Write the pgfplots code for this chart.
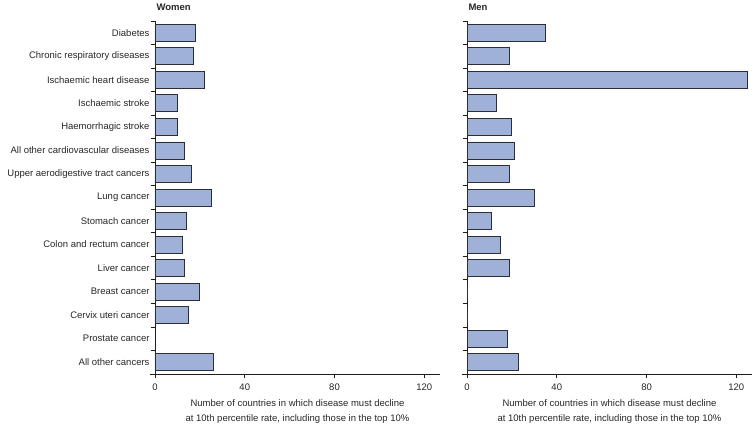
\documentclass[border=0pt]{standalone}
\usepackage{fontspec}
\setmainfont{Liberation Sans}
\usepackage{pgfplots}
\pgfplotsset{compat=1.18}
\definecolor{barfill}{RGB}{160,177,216}
\definecolor{baredge}{RGB}{45,45,55}
\definecolor{axiscol}{RGB}{30,30,30}
\pgfplotsset{
  panel/.style={
    scale only axis, width=285pt, height=353pt,
    xmin=0, xmax=127,
    ymin=-0.5, ymax=14.5, y dir=reverse,
    axis x line*=bottom, axis y line*=left,
    axis line style={axiscol, line width=0.8pt},
    xtick={0,40,80,120},
    ytick={-0.5,0.5,...,14.5},
    yticklabels={},
    tick align=outside,
    major tick length=4pt,
    tick style={axiscol, line width=0.8pt},
    extra y ticks={0,...,14},
    extra y tick style={major tick length=0pt, tick style={draw=none}},
    /pgf/number format/assume math mode=true,
    ticklabel style={font=\fontsize{9.5}{11}\selectfont, text=black!85},
    xticklabel style={yshift=-2pt},
    xlabel style={align=center, font=\fontsize{9.5}{15}\selectfont, text=black!85, yshift=-2pt},
    xlabel={Number of countries in which disease must decline\\at 10th percentile rate, including those in the top 10\%},
    clip=false,
  },
  mybar/.style={xbar, bar width=17pt, fill=barfill, draw=baredge, line width=0.8pt},
}
\begin{document}
\begin{tikzpicture}
\useasboundingbox (-155pt,-50pt) rectangle (599pt,374pt);
% Women
\begin{axis}[panel, at={(0pt,0pt)}, anchor=south west,
  extra y tick labels={Diabetes,Chronic respiratory diseases,Ischaemic heart disease,Ischaemic stroke,Haemorrhagic stroke,All other cardiovascular diseases,Upper aerodigestive tract cancers,Lung cancer,Stomach cancer,Colon and rectum cancer,Liver cancer,Breast cancer,Cervix uteri cancer,Prostate cancer,All other cancers},
  yticklabel style={xshift=-2pt}]
\addplot[mybar] coordinates {
 (18,0) (17,1) (22,2) (10,3) (10,4) (13,5) (16,6) (25,7)
 (14,8) (12,9) (13,10) (20,11) (15,12) (26,14)};
\draw[axiscol, line width=0.8pt] (axis cs:0,14.5) -- ([xshift=-5pt]axis cs:0,14.5);
\node[anchor=base west, font=\bfseries\fontsize{9.5}{11}\selectfont, text=black!85] at (axis cs:0,-0.5) [yshift=11pt, xshift=-2pt] {Women};
\end{axis}
% Men
\begin{axis}[panel, at={(312pt,0pt)}, anchor=south west,
  extra y tick labels={}]
\addplot[mybar] coordinates {
 (35,0) (19,1) (125,2) (13,3) (20,4) (21,5) (19,6) (30,7)
 (11,8) (15,9) (19,10) (0,11) (0,12) (18,13) (23,14)};
\draw[axiscol, line width=0.8pt] (axis cs:0,14.5) -- ([xshift=-5pt]axis cs:0,14.5);
\node[anchor=base west, font=\bfseries\fontsize{9.5}{11}\selectfont, text=black!85] at (axis cs:0,-0.5) [yshift=11pt, xshift=-2pt] {Men};
\end{axis}
\end{tikzpicture}
\end{document}
